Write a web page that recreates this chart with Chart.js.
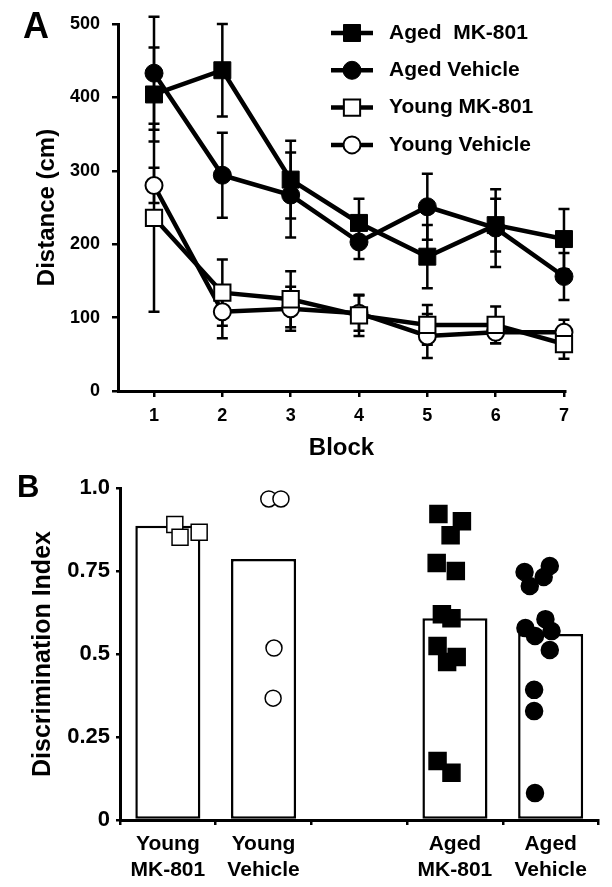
<!DOCTYPE html>
<html>
<head>
<meta charset="utf-8">
<script src="https://cdn.jsdelivr.net/npm/chart.js@4.4.1/dist/chart.umd.min.js"></script>
<style>
  body { margin: 0; background: #fff; }
  .panel { position: absolute; left: 0; }
  #panelA { top: 0; width: 612px; height: 460px; }
  #panelB { top: 460px; width: 612px; height: 427px; }
</style>
</head>
<body>
<div class="panel" id="panelA"><canvas id="blockChart" width="612" height="460"></canvas></div>
<div class="panel" id="panelB"><canvas id="discChart" width="612" height="427"></canvas></div>
<script>
// ---- Panel A: distance travelled per block (mean +/- SEM) ----
const blocks = [1, 2, 3, 4, 5, 6, 7];
const distanceTicks = [0, 100, 200, 300, 400, 500];

const agedMk801 = [404, 437, 288, 229, 183, 226, 207];
const agedMk801Sem = [64, 63, 53, 33, 43, 36, 41];
const agedVehicle = [433, 294, 267, 203, 251, 222, 156];
const agedVehicleSem = [77, 58, 58, 23, 45, 53, 32];
const youngMk801 = [236, 134, 125, 103, 90, 90, 64];
const youngMk801Sem = [128, 45, 38, 28, 27, 25, 20];
const youngVehicle = [280, 108, 112, 106, 75, 80, 80];
const youngVehicleSem = [24, 36, 30, 24, 30, 15, 17];

// ---- Panel B: discrimination index per animal ----
const groups = [['Young', 'MK-801'], ['Young', 'Vehicle'], '', ['Aged', 'MK-801'], ['Aged', 'Vehicle']];
const groupMeans = [0.886, 0.786, null, 0.608, 0.560];
const indexTicks = [0, 0.25, 0.5, 0.75, 1];
const indexTickLabels = ['0', '0.25', '0.5', '0.75', '1.0'];

const youngMk801Di = [0.89, 0.852, 0.867];
const youngMk801Jitter = [-0.12, -0.06, 0.16];
const youngVehicleDi = [0.967, 0.967, 0.518, 0.367];
const youngVehicleJitter = [-0.04, 0.10, 0.02, 0.01];
const agedMk801Di = [0.922, 0.90, 0.858, 0.774, 0.75, 0.62, 0.608, 0.524, 0.491, 0.476, 0.178, 0.142];
const agedMk801Jitter = [-0.09, 0.18, 0.05, -0.11, 0.11, -0.05, 0.06, -0.10, 0.12, 0.01, -0.10, 0.06];
const agedVehicleDi = [0.747, 0.765, 0.732, 0.705, 0.605, 0.578, 0.554, 0.569, 0.512, 0.392, 0.328, 0.081];
const agedVehicleJitter = [-0.10, 0.19, 0.12, -0.04, 0.14, -0.09, 0.02, 0.21, 0.19, 0.01, 0.01, 0.02];

const FONT = 'Arial, "Liberation Sans", sans-serif';
Chart.defaults.font.family = FONT;
Chart.defaults.color = '#000';

// vertical error bars with caps, drawn under the lines
const errorBars = {
    id: 'errorBars',
    beforeDatasetsDraw(chart) {
        const ctx = chart.ctx;
        const yScale = chart.scales.y;
        ctx.save();
        ctx.strokeStyle = '#000';
        ctx.lineWidth = 2.5;
        chart.data.datasets.forEach((ds, i) => {
            if (!ds.errors) return;
            chart.getDatasetMeta(i).data.forEach((pt, j) => {
                const v = ds.data[j].y;
                const e = ds.errors[j];
                const top = yScale.getPixelForValue(v + e);
                const bot = yScale.getPixelForValue(v - e);
                ctx.beginPath();
                ctx.moveTo(pt.x, top); ctx.lineTo(pt.x, bot);
                ctx.moveTo(pt.x - 5.5, top); ctx.lineTo(pt.x + 5.5, top);
                ctx.moveTo(pt.x - 5.5, bot); ctx.lineTo(pt.x + 5.5, bot);
                ctx.stroke();
            });
        });
        ctx.restore();
    }
};

// legend inside the plot: line + marker + label
const insetLegend = {
    id: 'insetLegend',
    afterDraw(chart, args, opts) {
        if (!opts.show) return;
        const ctx = chart.ctx;
        ctx.save();
        chart.data.datasets.forEach((ds, i) => {
            const y = opts.top + i * opts.spacing;
            ctx.strokeStyle = '#000';
            ctx.lineWidth = ds.borderWidth;
            ctx.beginPath();
            ctx.moveTo(opts.x - 21, y);
            ctx.lineTo(opts.x + 21, y);
            ctx.stroke();
            ctx.fillStyle = ds.pointBackgroundColor;
            ctx.lineWidth = ds.pointBorderWidth;
            Chart.helpers.drawPoint(ctx, {
                pointStyle: ds.pointStyle, radius: ds.pointRadius,
                borderWidth: ds.pointBorderWidth, rotation: 0
            }, opts.x, y);
            ctx.fillStyle = '#000';
            ctx.font = 'bold 21px ' + FONT;
            ctx.textBaseline = 'middle';
            ctx.fillText(ds.label, opts.x + 37, y);
        });
        ctx.restore();
    }
};

const panelLabel = {
    id: 'panelLabel',
    afterDraw(chart, args, opts) {
        const ctx = chart.ctx;
        ctx.save();
        ctx.fillStyle = '#000';
        ctx.font = 'bold ' + opts.size + 'px ' + FONT;
        ctx.textBaseline = 'alphabetic';
        ctx.fillText(opts.text, opts.x, opts.y);
        ctx.restore();
    }
};

function axisStyle(tickLen) {
    return {
        grid: { drawOnChartArea: false, drawTicks: true, tickLength: tickLen, color: '#000', lineWidth: 2.5 },
        border: { color: '#000', width: 3 }
    };
}

function series(label, values, errors, style, fill, radius) {
    return {
        label: label,
        data: values.map((v, i) => ({ x: blocks[i], y: v })),
        errors: errors,
        borderColor: '#000',
        borderWidth: 4.5,
        tension: 0,
        pointStyle: style,
        pointRadius: radius,
        pointBackgroundColor: fill,
        pointBorderColor: '#000',
        pointBorderWidth: fill === '#fff' ? 2 : 1,
        clip: false
    };
}

new Chart(document.getElementById('blockChart'), {
    type: 'line',
    data: {
        datasets: [
            series('Aged  MK-801', agedMk801, agedMk801Sem, 'rect', '#000', 12),
            series('Aged Vehicle', agedVehicle, agedVehicleSem, 'circle', '#000', 9),
            series('Young MK-801', youngMk801, youngMk801Sem, 'rect', '#fff', 11.5),
            series('Young Vehicle', youngVehicle, youngVehicleSem, 'circle', '#fff', 8.5)
        ]
    },
    options: {
        responsive: false,
        animation: false,
        devicePixelRatio: 1,
        layout: { padding: { top: 24, right: 47, left: 0, bottom: 0 } },
        plugins: {
            legend: { display: false },
            tooltip: { enabled: false },
            insetLegend: { show: true, x: 352, top: 33, spacing: 37.3 },
            panelLabel: { text: 'A', x: 23, y: 38, size: 36 }
        },
        scales: {
            x: {
                type: 'linear', min: 0.473, max: 7.015,
                afterBuildTicks: s => { s.ticks = blocks.map(v => ({ value: v })); },
                afterFit: s => { s.height = 69; },
                ...axisStyle(6),
                ticks: { font: { size: 18, weight: 'bold' }, padding: 8 },
                title: { display: true, text: 'Block', font: { size: 24, weight: 'bold', lineHeight: 1 }, padding: 0 }
            },
            y: {
                min: 0, max: 500,
                afterBuildTicks: s => { s.ticks = distanceTicks.map(v => ({ value: v })); },
                afterFit: s => { s.width = 118; },
                ...axisStyle(6),
                ticks: { font: { size: 18, weight: 'bold' }, padding: 12 },
                title: { display: true, text: 'Distance (cm)', font: { size: 24, weight: 'bold', lineHeight: 1 }, padding: { top: 35 } }
            }
        }
    },
    plugins: [errorBars, insetLegend, panelLabel]
});

function dots(values, jitter, group, style, fill, radius) {
    return {
        type: 'scatter',
        xAxisID: 'x2',
        data: values.map((v, i) => ({ x: group + jitter[i], y: v })),
        pointStyle: style,
        pointRadius: radius,
        pointBackgroundColor: fill,
        pointBorderColor: '#000',
        pointBorderWidth: 1.5,
        order: 0,
        clip: false
    };
}

new Chart(document.getElementById('discChart'), {
    type: 'bar',
    data: {
        labels: groups,
        datasets: [
            dots(youngMk801Di, youngMk801Jitter, 0, 'rect', '#fff', 11.3),
            dots(youngVehicleDi, youngVehicleJitter, 1, 'circle', '#fff', 8),
            dots(agedMk801Di, agedMk801Jitter, 3, 'rect', '#000', 12),
            dots(agedVehicleDi, agedVehicleJitter, 4, 'circle', '#000', 8.5),
            {
                type: 'bar',
                data: groupMeans,
                backgroundColor: '#fff',
                borderColor: '#000',
                borderWidth: 2.5,
                borderSkipped: false,
                grouped: false,
                categoryPercentage: 1,
                barPercentage: 0.68,
                order: 1
            }
        ]
    },
    options: {
        responsive: false,
        animation: false,
        devicePixelRatio: 1,
        layout: { padding: { top: 28, right: 12, left: 0, bottom: 0 } },
        plugins: {
            legend: { display: false },
            tooltip: { enabled: false },
            panelLabel: { text: 'B', x: 17, y: 37, size: 31 }
        },
        scales: {
            x: {
                type: 'category', offset: true,
                afterFit: s => { s.height = 67; },
                ...axisStyle(5),
                grid: { offset: true, drawOnChartArea: false, drawTicks: true, tickLength: 5, color: '#000', lineWidth: 2.5 },
                ticks: { font: { size: 21, weight: 'bold', lineHeight: 1.2 }, padding: 7, maxRotation: 0, autoSkip: false }
            },
            x2: { type: 'linear', display: false, min: -0.5, max: 4.5 },
            y: {
                min: 0, max: 1,
                afterBuildTicks: s => { s.ticks = indexTicks.map(v => ({ value: v })); },
                afterFit: s => { s.width = 120; },
                ...axisStyle(4),
                ticks: { font: { size: 22, weight: 'bold' }, padding: 6, callback: (v, i) => indexTickLabels[i] },
                title: { display: true, text: 'Discrimination Index', font: { size: 25, weight: 'bold', lineHeight: 1 }, padding: { top: 31 } }
            }
        }
    },
    plugins: [panelLabel]
});
</script>
</body>
</html>
